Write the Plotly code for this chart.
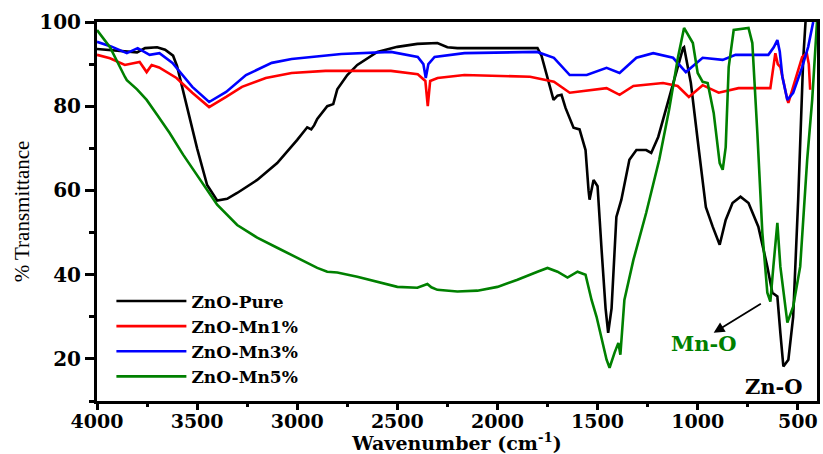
import plotly.graph_objects as go

# ZnO-Pure
pure_w = [4000, 3900, 3800, 3760, 3700, 3660, 3620, 3600, 3550, 3500, 3450, 3400, 3350, 3300, 3200, 3100,
          3000, 2950, 2930, 2915, 2900, 2850, 2820, 2800, 2750, 2700, 2600, 2500, 2400, 2300, 2250, 2200,
          2000, 1800, 1780, 1750, 1720, 1700, 1680, 1660, 1620, 1590, 1560, 1545, 1540, 1520, 1500, 1480,
          1460, 1447, 1430, 1406, 1381, 1341, 1306, 1257, 1232, 1197, 1173, 1123, 1073, 1068, 1034, 994,
          959, 925, 890, 860, 826, 786, 746, 697, 652, 627, 602, 587, 572, 547, 523, 498, 473, 460, 440]
pure_t = [93.6, 93.2, 92.8, 93.8, 94.0, 93.4, 92.0, 89.5, 80.0, 70.0, 61.3, 57.6, 58.0, 59.4, 62.5, 66.5,
          72.0, 75.0, 74.5, 75.5, 77.0, 80.0, 80.5, 84.0, 87.4, 89.8, 92.9, 94.1, 94.8, 95.0, 94.0, 93.8,
          93.8, 93.8, 92.0, 86.7, 81.5, 82.5, 82.7, 79.6, 74.9, 74.5, 69.6, 60.0, 57.8, 62.5, 61.0, 46.0,
          32.0, 26.2, 32.0, 53.7, 57.8, 67.3, 69.6, 69.6, 68.9, 72.7, 76.7, 85.5, 93.8, 94.0, 85.5, 69.6,
          56.0, 51.4, 47.1, 53.0, 57.0, 58.5, 57.0, 51.4, 41.9, 35.7, 34.8, 26.2, 18.2, 19.8, 30.0, 57.8,
          91.0, 101.0, 105.0]

# ZnO-Mn1%
mn1_w = [4000, 3935, 3861, 3787, 3752, 3727, 3690, 3653, 3603, 3524, 3440, 3355, 3276, 3157, 3028, 2859,
         2532, 2398, 2360, 2348, 2336, 2299, 2165, 1837, 1718, 1639, 1505, 1455, 1390, 1321, 1173, 1100,
         1044, 975, 895, 796, 637, 625, 612, 600, 587, 552, 547, 513, 478, 455, 445, 438]
mn1_t = [92.2, 91.4, 89.8, 90.5, 88.1, 89.8, 89.2, 88.1, 86.7, 83.2, 79.8, 82.2, 84.6, 86.7, 87.9, 88.4,
         88.4, 87.6, 86.0, 80.0, 86.0, 86.7, 87.4, 87.0, 85.8, 83.2, 83.9, 84.3, 82.7, 84.8, 85.5, 84.8,
         82.2, 85.0, 83.2, 84.3, 84.3, 88.0, 92.6, 90.0, 89.3, 81.5, 80.8, 86.2, 91.7, 92.6, 90.0, 83.9]

# ZnO-Mn3%
mn3_w = [4000, 3930, 3851, 3797, 3737, 3688, 3623, 3524, 3440, 3355, 3256, 3127, 3028, 2929, 2780, 2532,
         2398, 2370, 2358, 2345, 2314, 2165, 1802, 1718, 1639, 1554, 1455, 1390, 1306, 1222, 1123, 1059,
         975, 875, 811, 647, 620, 602, 590, 577, 552, 523, 478, 448, 423]
mn3_t = [95.3, 94.2, 92.6, 93.8, 92.2, 92.6, 90.3, 84.6, 81.0, 83.4, 87.4, 90.3, 91.2, 91.7, 92.4, 92.9,
         91.7, 90.0, 86.7, 90.0, 91.7, 92.6, 92.9, 91.5, 87.4, 87.4, 89.1, 87.9, 91.5, 92.6, 91.5, 88.1,
         91.5, 91.0, 92.2, 92.2, 94.0, 95.7, 93.0, 87.0, 81.5, 83.2, 89.3, 94.1, 100.0]

# ZnO-Mn5%
mn5_w = [4000, 3935, 3861, 3851, 3800, 3752, 3700, 3638, 3570, 3500, 3400, 3300, 3200, 3100, 3000, 2900,
         2850, 2800, 2700, 2600, 2500, 2400, 2350, 2330, 2300, 2200, 2100, 2000, 1900, 1800, 1750, 1700,
         1650, 1600, 1560, 1530, 1505, 1455, 1440, 1415, 1396, 1386, 1366, 1321, 1257, 1192, 1143, 1098,
         1068, 1024, 1000, 975, 950, 920, 890, 875, 860, 845, 820, 746, 727, 702, 677, 652, 637, 622,
         602, 587, 552, 523, 488, 453, 428, 404]
mn5_t = [98.1, 94.0, 87.0, 86.2, 84.0, 81.5, 78.0, 73.7, 68.5, 63.7, 56.6, 51.8, 48.8, 46.4, 44.0, 41.6,
         40.7, 40.5, 39.5, 38.3, 37.1, 36.9, 37.8, 37.0, 36.4, 36.0, 36.2, 37.1, 38.8, 40.7, 41.6, 40.7,
         39.3, 40.7, 40.0, 34.0, 30.0, 19.8, 17.9, 21.5, 23.8, 21.0, 34.0, 43.5, 54.7, 67.3, 79.1, 91.7,
         98.6, 95.0, 87.9, 85.8, 85.5, 78.4, 66.5, 64.9, 70.3, 89.3, 98.1, 98.6, 95.0, 73.7, 50.0, 35.7,
         33.6, 41.9, 52.3, 41.9, 28.6, 32.4, 41.9, 67.3, 81.5, 100.0]

series = [
    ("ZnO-Pure", pure_w, pure_t, "#000000"),
    ("ZnO-Mn1%", mn1_w, mn1_t, "#ff0000"),
    ("ZnO-Mn3%", mn3_w, mn3_t, "#0000ff"),
    ("ZnO-Mn5%", mn5_w, mn5_t, "#008000"),
]

x_ticks = [4000, 3500, 3000, 2500, 2000, 1500, 1000, 500]
y_ticks = [20, 40, 60, 80, 100]

fig = go.Figure()
for name, w, t, c in series:
    fig.add_trace(go.Scatter(x=w, y=t, mode="lines", name=name,
                             line=dict(color=c, width=2.6)))

bold = "DejaVu Serif"
fig.update_layout(
    width=823, height=454,
    margin=dict(l=97, r=3, t=22, b=53),
    paper_bgcolor="white", plot_bgcolor="white",
    showlegend=True,
    legend=dict(x=0.02, y=0.31, xanchor="left", yanchor="top",
                bgcolor="rgba(0,0,0,0)", tracegroupgap=0, itemwidth=70,
                font=dict(family=bold, size=17, color="black", weight="bold")),
    font=dict(family=bold, color="black"),
)
fig.update_xaxes(
    range=[4000, 404], autorange=False,
    tickvals=x_ticks, ticktext=[str(v) for v in x_ticks],
    ticks="outside", ticklen=6, tickwidth=2.5, tickcolor="black",
    ticklabelstandoff=-5,
    minor=dict(dtick=250, tick0=0, ticks="outside", ticklen=3, tickwidth=2.5, tickcolor="black"),
    showline=True, linewidth=3, linecolor="black", mirror=True,
    showgrid=False, zeroline=False,
    tickfont=dict(family=bold, size=19, color="black", weight="bold"),
    title=dict(text="Wavenumber (cm<sup>-1</sup>)", standoff=4,
               font=dict(family=bold, size=19, color="black", weight="bold")),
)
fig.update_yaxes(
    range=[10, 100], autorange=False,
    tickvals=y_ticks, ticktext=[str(v) for v in y_ticks],
    ticks="outside", ticklen=9, tickwidth=2.5, tickcolor="black",
    minor=dict(dtick=10, tick0=0, ticks="outside", ticklen=5, tickwidth=2.5, tickcolor="black"),
    showline=True, linewidth=3, linecolor="black", mirror=True,
    showgrid=False, zeroline=False,
    tickfont=dict(family=bold, size=20, color="black", weight="bold"),
    title=dict(text="% Transmittance", standoff=4,
               font=dict(family="Liberation Serif", size=21, color="black")),
)

fig.add_annotation(x=920, y=26.2, ax=677, ay=33.3, axref="x", ayref="y", xref="x", yref="y",
                   text="", showarrow=True, arrowhead=2, arrowsize=1.2, arrowwidth=1.8, arrowcolor="black")
fig.add_annotation(x=970, y=23.6, xref="x", yref="y", text="Mn-O", showarrow=False,
                   font=dict(family=bold, size=21, color="#008000", weight="bold"))
fig.add_annotation(x=618, y=13.4, xref="x", yref="y", text="Zn-O", showarrow=False,
                   font=dict(family=bold, size=21, color="black", weight="bold"))

fig.write_html("out.html")
